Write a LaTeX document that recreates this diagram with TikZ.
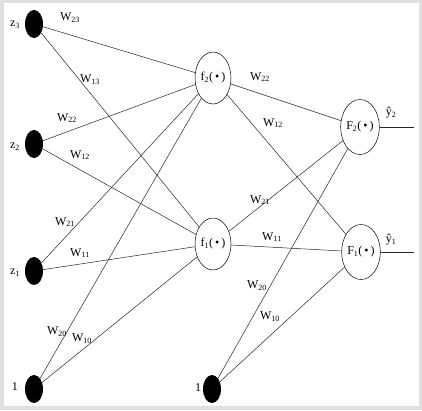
\documentclass[tikz,border=0pt]{standalone}
\usepackage{fontspec}
\setmainfont{Liberation Serif}
\usetikzlibrary{shapes.geometric}

\tikzset{
  dot/.style={ellipse, fill=black, minimum width=18pt, minimum height=28pt, inner sep=0pt},
  unit/.style={ellipse, draw, line width=0.5pt, minimum width=36pt, minimum height=52pt,
    inner sep=0pt, font=\fontsize{12}{14}\selectfont},
  wire/.style={line width=0.5pt, black!85},
  lab/.style={inner sep=0pt, font=\fontsize{12}{14}\selectfont}
}
\newcommand{\wt}[1]{W\textsubscript{#1}}
\newcommand{\act}[2]{#1\textsubscript{#2}(\,\textbullet\,)}

\begin{document}
\begin{tikzpicture}[x=1pt, y=-1pt]
\fill[black!12] (0,0) rectangle (422,410);
\fill[white] (4,3) rectangle (419,406);
\useasboundingbox (0,0) rectangle (422,410);
% input layer
\node[dot] (z3) at (34,24) {};
\node[dot] (z2) at (34,144) {};
\node[dot] (z1) at (34,271) {};
\node[dot] (b1) at (34,389) {};
\node[lab] (lz3) at (15,25) {z\textsubscript{3}};
\node[lab] (lz2) at (15,147) {z\textsubscript{2}};
\node[lab] (lz1) at (15,273) {z\textsubscript{1}};
\node[lab] (lb1) at (15,387) {1};
% hidden layer
\node[unit] (f2) at (213,78) {\act{f}{2}};
\node[unit] (f1) at (213,244) {\act{f}{1}};
\node[dot] (b2) at (212,389) {};
\node[lab] (lb2) at (198,388) {1};
% output layer
\node[unit, minimum height=55pt] (F2) at (360,127) {\act{F}{2}};
\node[unit, minimum height=55pt] (F1) at (361,252) {\act{F}{1}};
\coordinate (o2) at (414,127);
\coordinate (o1) at (414,252);
\node[lab] (y2) at (391,113) {\^{y}\textsubscript{2}};
\node[lab] (y1) at (391,240) {\^{y}\textsubscript{1}};
% connections
\foreach \a in {z3,z2,z1,b1} \foreach \b in {f2,f1} \draw[wire] (\a) -- (\b);
\foreach \a in {f2,f1,b2} \foreach \b in {F2,F1} \draw[wire] (\a) -- (\b);
\draw[wire] (F2) -- (o2);
\draw[wire] (F1) -- (o1);
% weights, first layer
\node[lab] (w23) at (70,18) {\wt{23}};
\node[lab] (w13) at (90,80) {\wt{13}};
\node[lab] (w22) at (67,118) {\wt{22}};
\node[lab] (w12) at (80,155) {\wt{12}};
\node[lab] (w21) at (65,222) {\wt{21}};
\node[lab] (w11) at (80,253) {\wt{11}};
\node[lab] (w20) at (57,332) {\wt{20}};
\node[lab] (w10) at (82,339) {\wt{10}};
% weights, second layer
\node[lab] (v22) at (260,77) {\wt{22}};
\node[lab] (v12) at (273,123) {\wt{12}};
\node[lab] (v21) at (260,200) {\wt{21}};
\node[lab] (v11) at (272,237) {\wt{11}};
\node[lab] (v20) at (257,286) {\wt{20}};
\node[lab] (v10) at (270,317) {\wt{10}};
\end{tikzpicture}
\end{document}
